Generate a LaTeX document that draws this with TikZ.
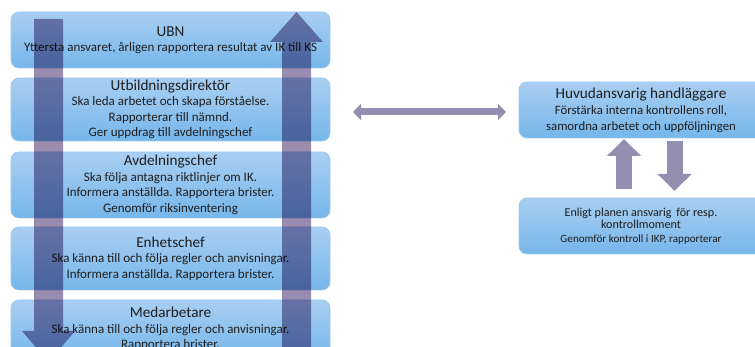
\documentclass[tikz,border=0pt]{standalone}
\usepackage{fontspec}
\setmainfont{Carlito}
\usetikzlibrary{arrows.meta}
\definecolor{boxtop}{HTML}{A9CFF2}
\definecolor{boxbot}{HTML}{76B6EA}
\definecolor{boxline}{HTML}{9CC8EF}
\definecolor{arrowmul}{HTML}{9A8CAE}
\definecolor{arrowsolid}{HTML}{928FB0}
\definecolor{txt}{HTML}{1E1E1E}
\newcommand{\ttl}{\fontsize{15.2}{16}\selectfont}
\newcommand{\smtxt}{\fontsize{11.1}{13}\selectfont}
\begin{document}
\frenchspacing
\begin{tikzpicture}[x=1pt,y=-1pt,
  box/.style={draw=boxline, line width=0.8pt, rounded corners=8pt,
    top color=boxtop, bottom color=boxbot, text=txt, align=center,
    inner sep=0pt, font=\fontsize{13}{15.5}\selectfont},
  lbox/.style={box, minimum width=319pt},
  rbox/.style={box, minimum width=244pt, minimum height=56pt},
  bigarrow/.style={fill=arrowmul, blend mode=multiply},
  dbl/.style={draw=arrowsolid, line width=7pt,
    {Triangle[width=16pt,length=8pt]}-{Triangle[width=16pt,length=8pt]}},
  blk/.style={draw=arrowsolid, line width=16pt,
    -{Triangle[width=33pt,length=17pt]}}
]
\useasboundingbox (0,0) rectangle (755,347);
\begin{scope}
\clip (0,0) rectangle (755,347);
% left column
\node[lbox, minimum height=56pt] (ubn) at (170.5,40)
  {{\ttl UBN}\\[0pt] Yttersta ansvaret, årligen rapportera resultat av IK till KS};
\node[lbox, minimum height=63pt] (utb) at (170.5,109.5)
  {{\ttl Utbildningsdirektör}\\[0pt] Ska leda arbetet och skapa förståelse.\\ Rapporterar till nämnd.\\ Ger uppdrag till avdelningschef};
\node[lbox, minimum height=66pt] (avd) at (170.5,185)
  {{\ttl Avdelningschef}\\[0pt] Ska följa antagna riktlinjer om IK.\\ Informera anställda. Rapportera brister.\\ Genomför riksinventering};
\node[lbox, minimum height=63pt] (enh) at (170.5,258.5)
  {{\ttl Enhetschef}\\[0pt] Ska känna till och följa regler och anvisningar.\\ Informera anställda. Rapportera brister.};
\node[lbox, minimum height=58pt] (med) at (170.5,329)
  {{\ttl Medarbetare}\\[0pt] Ska känna till och följa regler och anvisningar.\\ Rapportera brister.};
% big vertical arrows
\fill[bigarrow] (34,19) -- (63,19) -- (63,331) -- (75,331) -- (48.5,362)
  -- (22,331) -- (34,331) -- cycle;
\fill[bigarrow] (296.5,12) -- (323,42) -- (311,42) -- (311,360) -- (282,360)
  -- (282,42) -- (270,42) -- cycle;
% right column
\node[rbox, font=\fontsize{12.8}{16}\selectfont] (huv) at (641,110)
  {{\ttl Huvudansvarig handläggare}\\ Förstärka interna kontrollens roll,\\ samordna arbetet och uppföljningen};
\node[rbox, font=\fontsize{12.1}{12.8}\selectfont] (enl) at (641,226)
  {Enligt planen ansvarig\, för resp.\\ kontrollmoment\\[1pt] {\smtxt Genomför kontroll i IKP, rapporterar}};
% connectors
\coordinate (d1) at (353,112);
\coordinate (d2) at (506,112);
\draw[dbl] (d1) -- (d2);
\coordinate (u1) at (624,189);
\coordinate (u2) at (624,139);
\draw[blk] (u1) -- (u2);
\coordinate (w1) at (674.5,141);
\coordinate (w2) at (674.5,191);
\draw[blk] (w1) -- (w2);
\end{scope}
\end{tikzpicture}
\end{document}
